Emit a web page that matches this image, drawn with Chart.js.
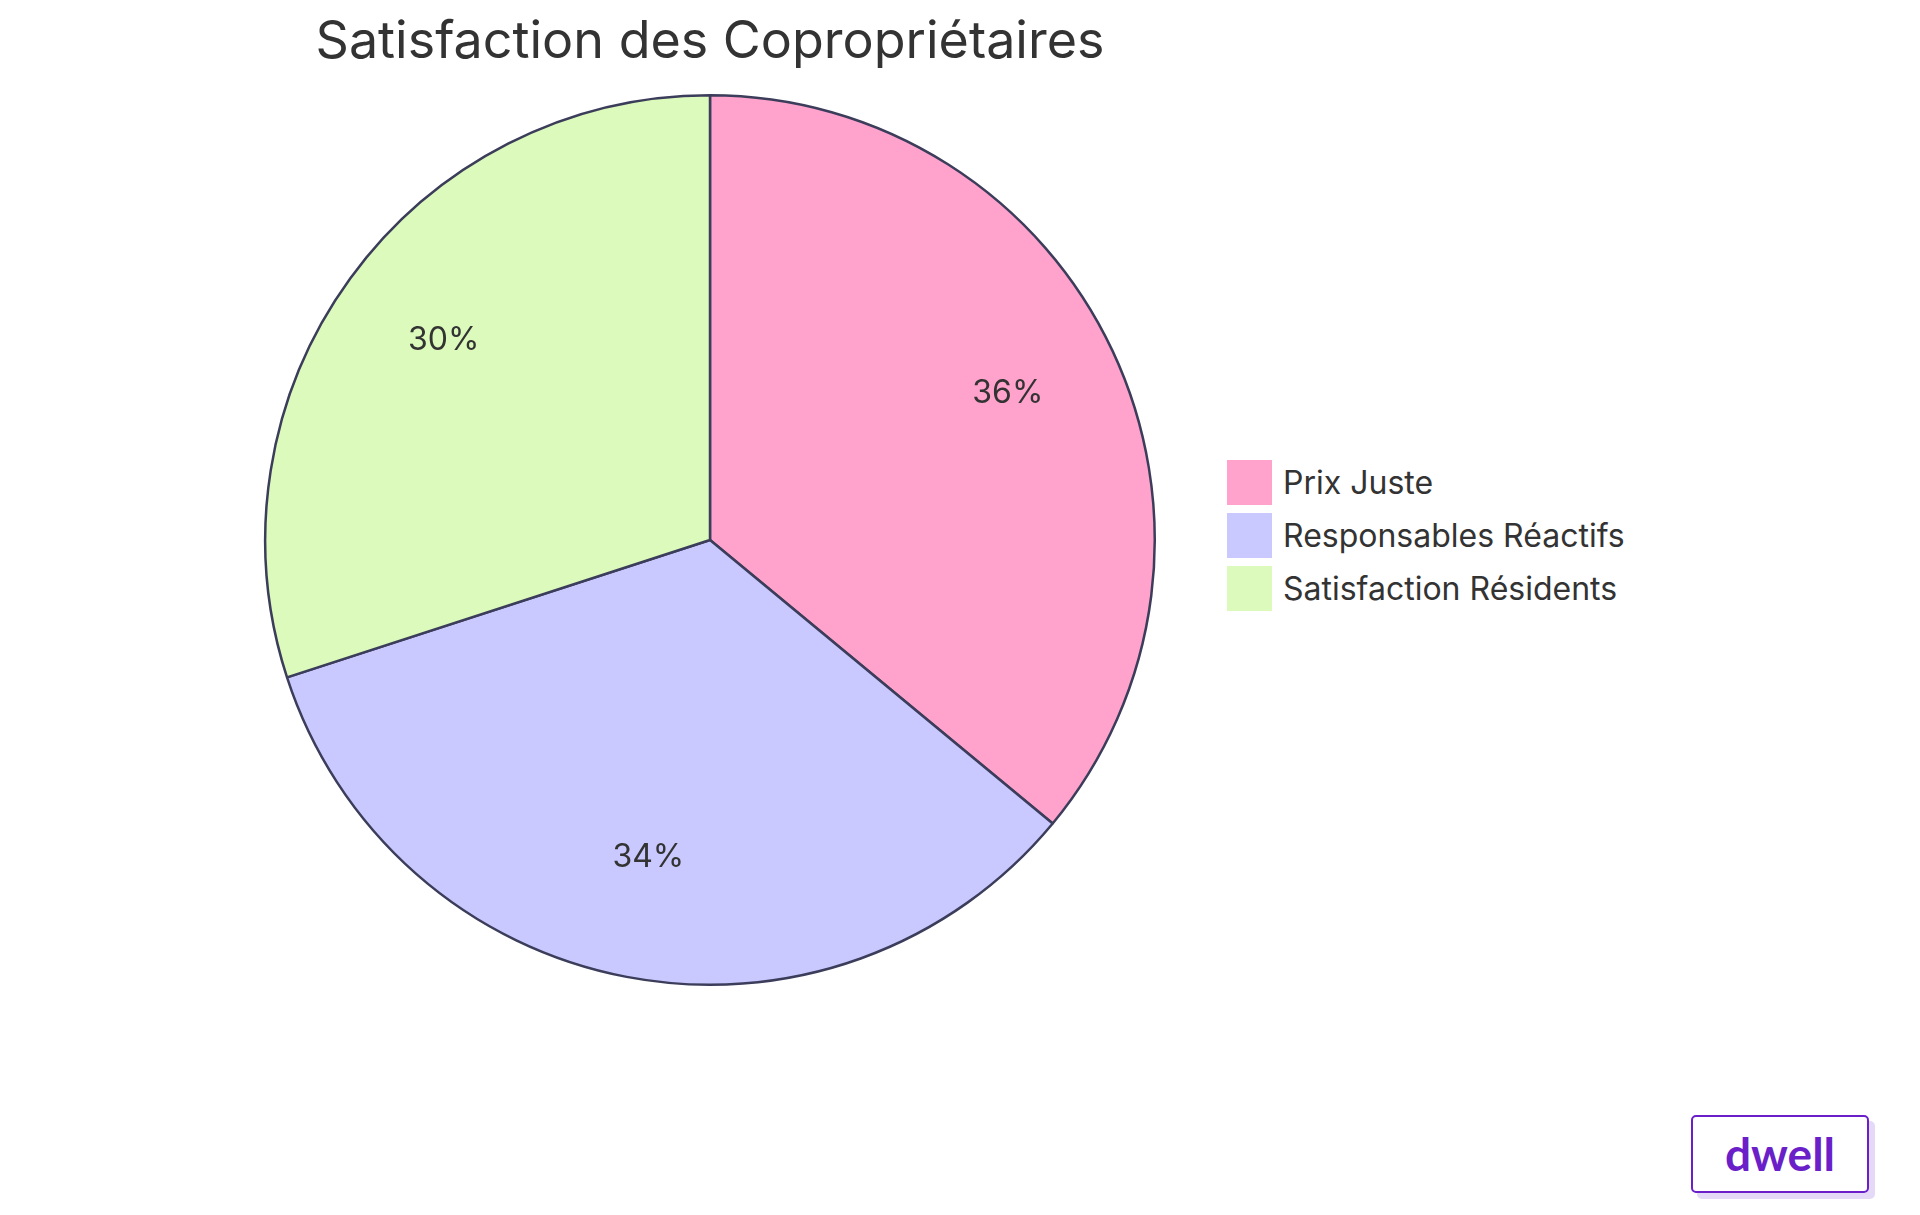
<!DOCTYPE html>
<html><head><meta charset="utf-8">
<script src="https://cdn.jsdelivr.net/npm/chart.js@4"></script>
<style>
body{margin:0;width:1920px;height:1215px;background:#fff;font-family:Inter,"Noto Sans",sans-serif;position:relative;overflow:hidden}
#title{position:absolute;left:0;width:1420px;top:8px;text-align:center;font-size:52px;color:#333;}
#wrap{position:absolute;left:262px;top:92px;width:896px;height:896px}
#legend{position:absolute;left:1227px;top:460px}
.row{display:flex;align-items:center;height:45px;margin-bottom:8px;font-size:32px;color:#333}
.sw{width:45px;height:45px;margin-right:11px}
#logo{position:absolute;left:1691px;top:1115px;width:178px;height:78px;border:2px solid #6a1fc9;border-radius:5px;box-shadow:6px 6px 0 #e4d9f7;color:#6a1fc9;font-weight:700;font-size:46px;text-align:center;line-height:74px;font-family:Lato,sans-serif;box-sizing:border-box}
</style></head><body>
<div id="title">Satisfaction des Copropriétaires</div>
<div id="wrap"><canvas id="c"></canvas></div>
<div id="legend"></div>
<div id="logo">dwell</div>
<script>
const categories=["Prix Juste","Responsables Réactifs","Satisfaction Résidents"];
const values=[36,34,30];
const colors=["#FFA3CD","#C9C9FF","#DCFABC"];
const lg=document.getElementById('legend');
categories.forEach((c,i)=>{lg.innerHTML+=`<div class="row"><div class="sw" style="background:${colors[i]}"></div>${c}</div>`});
const labelPlugin={id:'lbl',afterDatasetsDraw(ch){const ctx=ch.ctx;const meta=ch.getDatasetMeta(0);const tot=values.reduce((a,b)=>a+b,0);
ctx.save();ctx.font='32px Inter, sans-serif';ctx.fillStyle='#333';ctx.textAlign='center';ctx.textBaseline='middle';
meta.data.forEach((a,i)=>{const ang=(a.startAngle+a.endAngle)/2;const r=a.outerRadius*0.74;ctx.fillText(Math.round(values[i]/tot*100)+'%',a.x+Math.cos(ang)*r,a.y+Math.sin(ang)*r-6);});ctx.restore();}};
new Chart(document.getElementById('c'),{type:'pie',data:{labels:categories,datasets:[{data:values,backgroundColor:colors,borderColor:'#3b3d5a',borderWidth:2.5}]},
options:{responsive:true,maintainAspectRatio:false,animation:false,plugins:{legend:{display:false},tooltip:{enabled:false}},layout:{padding:2}},plugins:[labelPlugin]});
</script></body></html>
